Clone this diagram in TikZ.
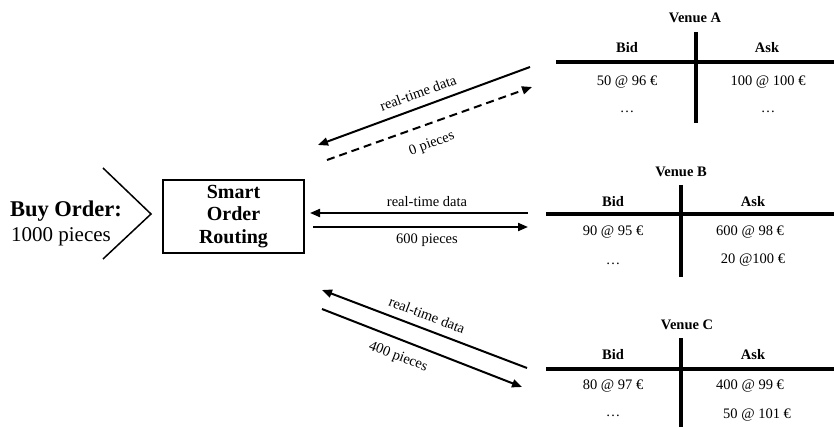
\documentclass[tikz,border=0pt]{standalone}
\usepackage{fontspec}
\setmainfont{Liberation Serif}
\usetikzlibrary{arrows.meta}
\begin{document}
\begin{tikzpicture}[x=1pt,y=-1pt,
  small/.style={font=\fontsize{14.5}{17}\selectfont, inner sep=1pt},
  smallbold/.style={font=\fontsize{14.5}{17}\selectfont\bfseries, inner sep=1pt},
  bookline/.style={line width=3.5pt},
  flow/.style={line width=2pt, -{Triangle[length=10pt,width=8pt]}},
  dashflow/.style={flow, dash pattern=on 8pt off 5pt},
]
\useasboundingbox (0,0) rectangle (834,427);

% incoming order
\draw[line width=1.5pt] (103,168) -- (151,214) -- (103,259);
\node[font=\fontsize{22.5}{26}\selectfont\bfseries, inner sep=0pt] (buy) at (66,211) {Buy Order:};
\node[font=\fontsize{21}{24}\selectfont, inner sep=0pt] (qty) at (61,237) {1000 pieces};

% router
\node[draw, line width=1.5pt, minimum width=141pt, minimum height=73pt, align=center,
      font=\fontsize{20}{22.5}\selectfont\bfseries] (sor) at (233.5,216.5) {Smart\\Order\\Routing};

% links to venue A
\coordinate (a1s) at (530,67);  \coordinate (a1e) at (318,145);
\coordinate (a2s) at (327,160); \coordinate (a2e) at (532,87);
\draw[flow] (a1s) -- (a1e);
\draw[dashflow] (a2s) -- (a2e);
\node[small, rotate=20] (adata) at (418,93) {real-time data};
\node[small, rotate=20] (aqty) at (432,144) {0 pieces};

% links to venue B
\coordinate (b1s) at (528,213); \coordinate (b1e) at (310,213);
\coordinate (b2s) at (313,227); \coordinate (b2e) at (528,227);
\draw[flow] (b1s) -- (b1e);
\draw[flow] (b2s) -- (b2e);
\node[small] (bdata) at (427,202) {real-time data};
\node[small] (bqty) at (427,240) {600 pieces};

% links to venue C
\coordinate (c1s) at (527,368); \coordinate (c1e) at (322,290);
\coordinate (c2s) at (322,309); \coordinate (c2e) at (522,387);
\draw[flow] (c1s) -- (c1e);
\draw[flow] (c2s) -- (c2e);
\node[small, rotate=-21] (cdata) at (427,315) {real-time data};
\node[small, rotate=-21] (cqty) at (398,357) {400 pieces};

% venue A order book
\draw[bookline] (696,32) -- (696,123);
\draw[bookline] (556,62) -- (834,62);
\node[smallbold] (vA) at (695,18) {Venue A};
\node[smallbold] (vAbid) at (627,48) {Bid};
\node[smallbold] (vAask) at (767,48) {Ask};
\node[small] (vAb1) at (627,82) {50 @ 96 €};
\node[small] (vAa1) at (768,82) {100 @ 100 €};
\node[small] (vAb2) at (627,112) {…};
\node[small] (vAa2) at (768,112) {…};

% venue B order book
\draw[bookline] (681,185) -- (681,277);
\draw[bookline] (546,214) -- (834,214);
\node[smallbold] (vB) at (681,172) {Venue B};
\node[smallbold] (vBbid) at (613,202) {Bid};
\node[smallbold] (vBask) at (753,202) {Ask};
\node[small] (vBb1) at (613,232) {90 @ 95 €};
\node[small] (vBa1) at (750,232) {600 @ 98 €};
\node[small] (vBb2) at (613,264) {…};
\node[small] (vBa2) at (753,260) {20 @100 €};

% venue C order book
\draw[bookline] (681,338) -- (681,427);
\draw[bookline] (546,369) -- (834,369);
\node[smallbold] (vC) at (687,325) {Venue C};
\node[smallbold] (vCbid) at (613,355) {Bid};
\node[smallbold] (vCask) at (753,355) {Ask};
\node[small] (vCb1) at (613,386) {80 @ 97 €};
\node[small] (vCa1) at (750,386) {400 @ 99 €};
\node[small] (vCb2) at (613,416) {…};
\node[small] (vCa2) at (757,415) {50 @ 101 €};
\end{tikzpicture}
\end{document}
